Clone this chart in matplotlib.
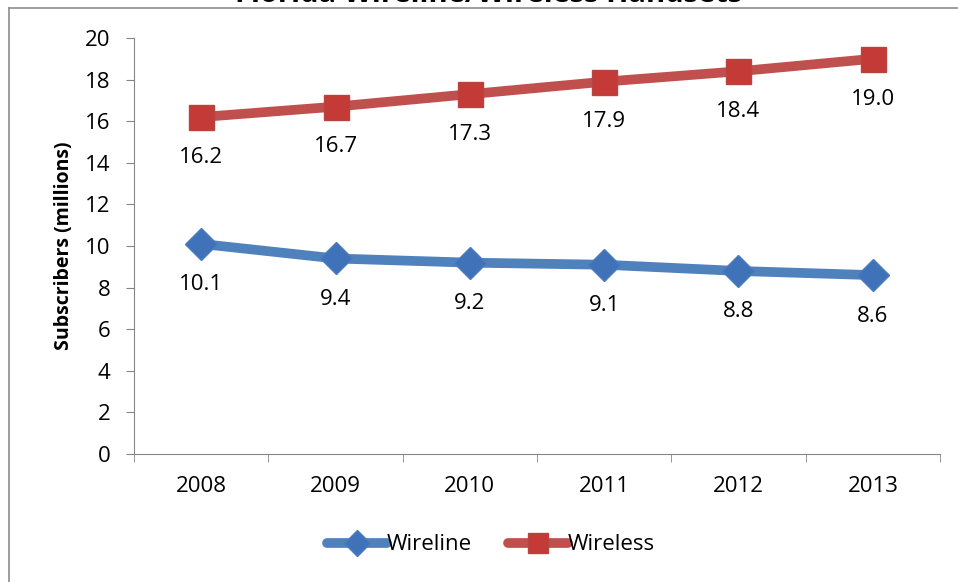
import numpy as np
from matplotlib import pyplot as plt
from matplotlib.lines import Line2D

years = ["2008", "2009", "2010", "2011", "2012", "2013"]
wireline = [10.1, 9.4, 9.2, 9.1, 8.8, 8.6]
wireless = [16.2, 16.7, 17.3, 17.9, 18.4, 19.0]

plt.rcParams['font.family'] = ['Open Sans', 'DejaVu Sans']

fig = plt.figure(figsize=(9.58, 5.82), dpi=100)
ax = fig.add_axes([0.1399, 0.2199, 0.9812 - 0.1399, 0.9347 - 0.2199])

x = np.arange(len(years))
blue = "#4F81BD"
red = "#C0504D"
ax.plot(x, wireline, color=blue, lw=7, marker="D", markersize=16,
        markerfacecolor="#3F72B8", markeredgecolor="#4A7CBB", label="Wireline",
        solid_capstyle="round")
ax.plot(x, wireless, color=red, lw=7, marker="s", markersize=18,
        markerfacecolor="#C43A36", markeredgecolor="#B84440", label="Wireless",
        solid_capstyle="round")

# etykiety pod punktami
for xi, v in zip(x, wireline):
    ax.annotate(f"{v:.1f}", (xi, v), xytext=(0, -29.5), textcoords="offset points",
                ha="center", va="center", fontsize=16)
for xi, v in zip(x, wireless):
    ax.annotate(f"{v:.1f}", (xi, v), xytext=(0, -29), textcoords="offset points",
                ha="center", va="center", fontsize=16)

ax.set_xlim(-0.5, len(years) - 0.5)
ax.set_ylim(0, 20)
ax.set_yticks(range(0, 21, 2))
ax.tick_params(axis="y", labelsize=16, length=6, color="#868686", pad=11)
ax.set_xticks(x)
ax.set_xticklabels(years)
ax.tick_params(axis="x", which="major", length=0, labelsize=16, pad=16)
ax.set_xticks(np.arange(-0.5, len(years), 1), minor=True)
ax.tick_params(axis="x", which="minor", length=6, color="#868686")
for s in ["top", "right"]:
    ax.spines[s].set_visible(False)
for s in ["left", "bottom"]:
    ax.spines[s].set_color("#868686")
ax.set_ylabel("Subscribers (millions)", fontsize=14, fontweight="bold", labelpad=8)

ax.legend(loc="center", bbox_to_anchor=(491 / 958, (582 - 545) / 582), bbox_transform=fig.transFigure,
          ncol=2, frameon=False, fontsize=16, handlelength=2.7, handletextpad=0.0,
          columnspacing=1.6, markerscale=0.8)

# tytul ucięty u gory, jak w oryginale
fig.text(0.51, 1.0 + 6 / 582, "Florida Wireline/Wireless Handsets", ha="center", va="center",
         fontsize=21, fontweight="bold")

fig.add_artist(Line2D([9 / 958, 1.0], [1 - 8 / 582, 1 - 8 / 582], color="#8c8c8c", lw=1.2,
                      transform=fig.transFigure))
fig.add_artist(Line2D([9 / 958, 9 / 958], [0, 1 - 8 / 582], color="#8c8c8c", lw=1.2,
                      transform=fig.transFigure))

fig.savefig("out.png", dpi=100)
